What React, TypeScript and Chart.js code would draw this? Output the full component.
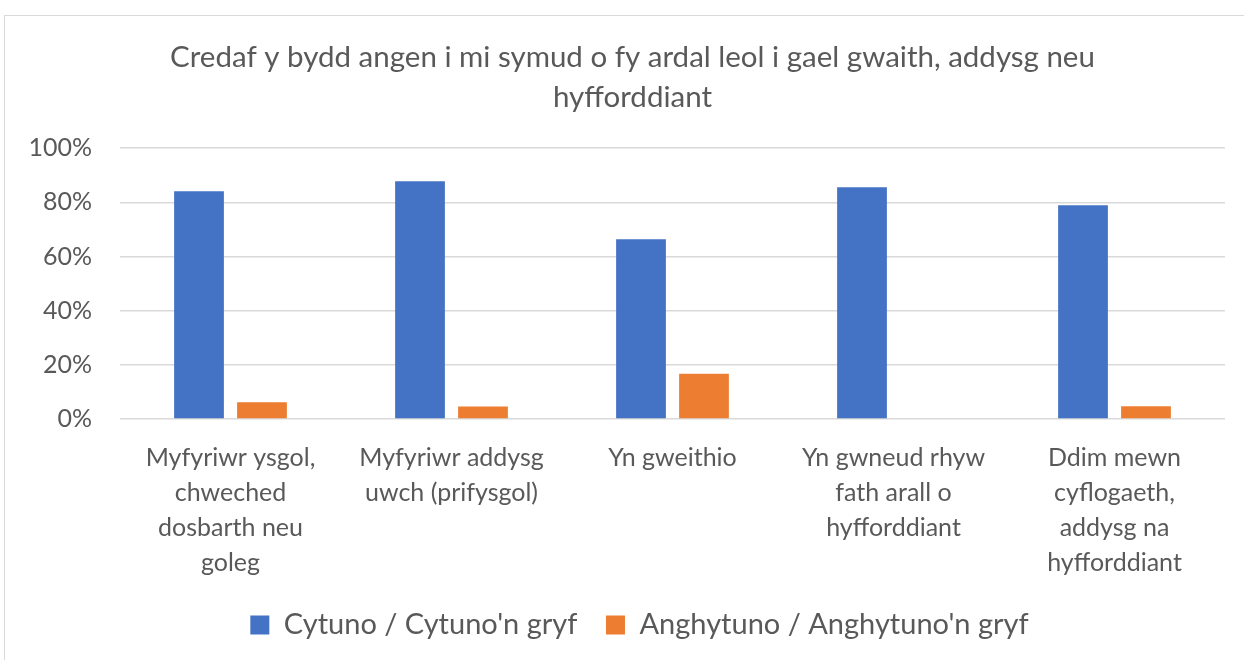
import React, { useEffect, useRef } from "react";
import { Chart, registerables } from "chart.js";

Chart.register(...registerables);

const titleLines = [
  "Credaf y bydd angen i mi symud o fy ardal leol i gael gwaith, addysg neu",
  "hyfforddiant",
];
const categories: string[][] = [
  ["Myfyriwr ysgol,", "chweched", "dosbarth neu", "goleg"],
  ["Myfyriwr addysg", "uwch (prifysgol)"],
  ["Yn gweithio"],
  ["Yn gwneud rhyw", "fath arall o", "hyfforddiant"],
  ["Ddim mewn", "cyflogaeth,", "addysg na", "hyfforddiant"],
];
const agreeLabel = "Cytuno / Cytuno'n gryf";
const disagreeLabel = "Anghytuno / Anghytuno'n gryf";
const agreeValues = [84.1, 87.8, 66.4, 85.6, 78.9];
const disagreeValues = [6.2, 4.6, 16.7, 0, 4.7];

const FONT = "Lato, 'Open Sans', sans-serif";
const TEXT = "#595959";
const GRID = "#d9d9d9";

// The original frame is centred a little right of the canvas centre.
const shiftPlugin = {
  id: "shiftBlocks",
  afterLayout(chart: any) {
    if (chart.titleBlock) {
      chart.titleBlock.left += 15;
      chart.titleBlock.right += 15;
    }
    if (chart.legend) {
      chart.legend.left += 22;
      chart.legend.right += 22;
    }
  },
};

export default function App() {
  const ref = useRef<HTMLCanvasElement | null>(null);
  useEffect(() => {
    if (!ref.current) return;
    const chart = new Chart(ref.current, {
      type: "bar",
      data: {
        labels: categories,
        datasets: [
          {
            label: agreeLabel,
            data: agreeValues,
            backgroundColor: "#4472C4",
            categoryPercentage: 0.57,
            barPercentage: 0.79,
          },
          {
            label: disagreeLabel,
            data: disagreeValues,
            backgroundColor: "#ED7D31",
            categoryPercentage: 0.57,
            barPercentage: 0.79,
          },
        ],
      },
      plugins: [shiftPlugin],
      options: {
        responsive: false,
        animation: false,
        layout: { padding: { top: 37, left: 10, right: 19, bottom: 10.5 } },
        plugins: {
          tooltip: { enabled: false },
          title: {
            display: true,
            text: titleLines,
            color: TEXT,
            font: { family: FONT, size: 29.5, weight: "normal", lineHeight: 1.36 },
            padding: { top: 0, bottom: 31 },
          },
          legend: {
            position: "bottom",
            labels: {
              color: TEXT,
              font: { family: FONT, size: 29 },
              boxWidth: 19,
              boxHeight: 19,
              padding: 28.5,
            },
          },
        },
        scales: {
          x: {
            afterFit: (s: any) => {
              s.height = 163;
            },
            grid: { display: false, drawTicks: false },
            border: { display: false },
            ticks: {
              color: TEXT,
              font: { family: FONT, size: 25, lineHeight: 1.4 },
              padding: 21,
              maxRotation: 0,
              autoSkip: false,
            },
          },
          y: {
            min: 0,
            max: 100,
            afterFit: (s: any) => {
              s.width = 110;
            },
            grid: { color: GRID, lineWidth: 1.5, drawTicks: false },
            border: { display: false },
            ticks: {
              stepSize: 20,
              color: TEXT,
              font: { family: FONT, size: 25 },
              padding: 28,
              callback: (v: any) => v + "%",
            },
          },
        },
      },
    });
    return () => chart.destroy();
  }, []);
  return (
    <div style={{ position: "fixed", left: 0, top: 0, width: 1244, height: 660, background: "#fff" }}>
      <canvas ref={ref} width={1244} height={660} style={{ position: "absolute", left: 0, top: 0 }} />
      <div
        style={{
          position: "absolute",
          left: 4,
          top: 15,
          width: 1260,
          height: 700,
          border: "1.5px solid #d9d9d9",
          pointerEvents: "none",
        }}
      />
    </div>
  );
}
